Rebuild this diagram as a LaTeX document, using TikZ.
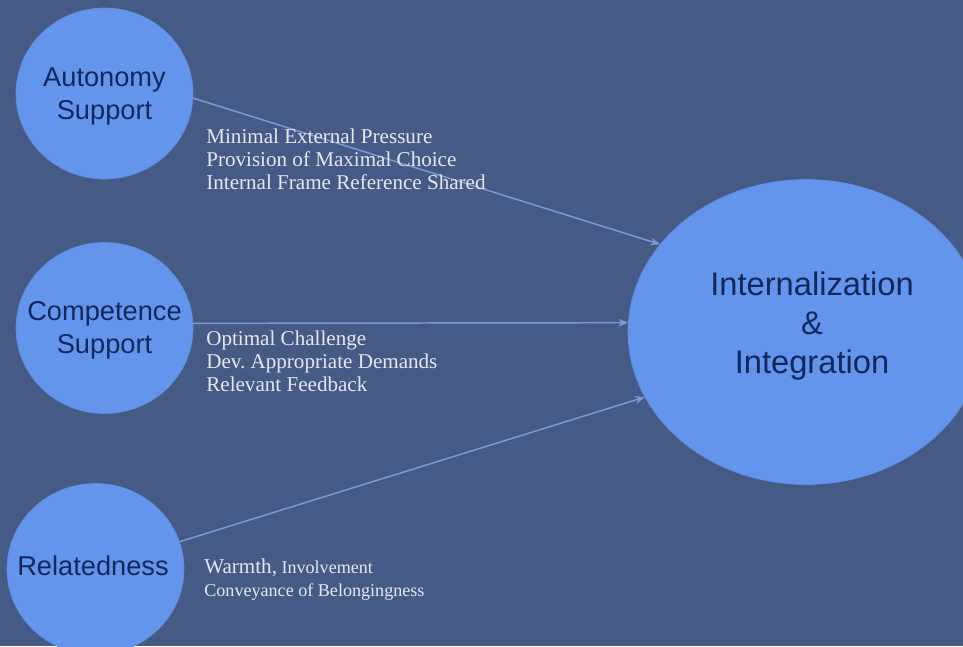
\documentclass[tikz,border=0pt]{standalone}
\usepackage{fontspec}
\setmainfont{Liberation Serif}
\setsansfont{Liberation Sans}
\usetikzlibrary{arrows.meta,shapes.geometric}
\frenchspacing

\definecolor{slate}{RGB}{69,91,134}
\definecolor{cornflower}{RGB}{100,149,237}
\definecolor{navy}{RGB}{18,40,92}
\definecolor{pale}{RGB}{228,232,240}
\definecolor{link}{RGB}{122,153,212}

\tikzset{
  need/.style={ellipse,fill=cornflower,draw=cornflower!85!slate,line width=0.4pt,
    minimum width=3.54cm,minimum height=3.42cm,inner sep=0pt},
  goal/.style={need,minimum width=7.12cm,minimum height=6.1cm},
  needtext/.style={text=navy,align=center,inner sep=0pt,
    font=\sffamily\fontsize{15.5}{18.6}\selectfont},
  goaltext/.style={needtext,font=\sffamily\fontsize{18.6}{22.2}\selectfont},
  feed/.style={draw=link,line width=0.85pt,-{Stealth[length=5.5pt,width=4.5pt]}},
  cue/.style={text=pale,anchor=west,align=left,inner sep=0pt,
    font=\fontsize{12}{13.1}\selectfont}
}

\begin{document}
\begin{tikzpicture}[x=0.02cm,y=-0.02cm]

% Background
\fill[slate] (0,0) rectangle (963,646);
\useasboundingbox (0,0) rectangle (963,646);
\clip (0,0) rectangle (963,646);

% Needs on the left
\node[need] (auto) at (104.5,93.5) {};
\node[needtext] (autotext) at (104.5,96.5) {Autonomy\\Support};
\node[need] (comp) at (104.5,328) {};
\node[needtext] (comptext) at (104.5,330) {Competence\\Support};
\node[need] (rel) at (95.5,569) {};
\node[needtext] (reltext) at (93,566) {Relatedness};

% Outcome
\node[goal] (goal) at (806,332) {};
\node[goaltext] (goaltext) at (812,326) {Internalization\\\&\\Integration};

% Arrows
\draw[feed] (auto.-3) -- (goal.149.4);
\draw[feed] (comp.3) -- (goal.177);
\draw[feed] (rel.18.7) -- (goal.202);

% Conditions along each arrow
\node[cue] (autocue) at (206,159) {Minimal External Pressure\\Provision of Maximal Choice\\Internal Frame Reference Shared};
\node[cue] (compcue) at (206,361) {Optimal Challenge\\Dev. Appropriate Demands\\Relevant Feedback};
\node[cue,font=\fontsize{10.3}{13}\selectfont] (relcue) at (204,580)
  {{\fontsize{12}{13}\selectfont Warmth,} Involvement\\Conveyance of Belongingness};

\end{tikzpicture}
\end{document}
